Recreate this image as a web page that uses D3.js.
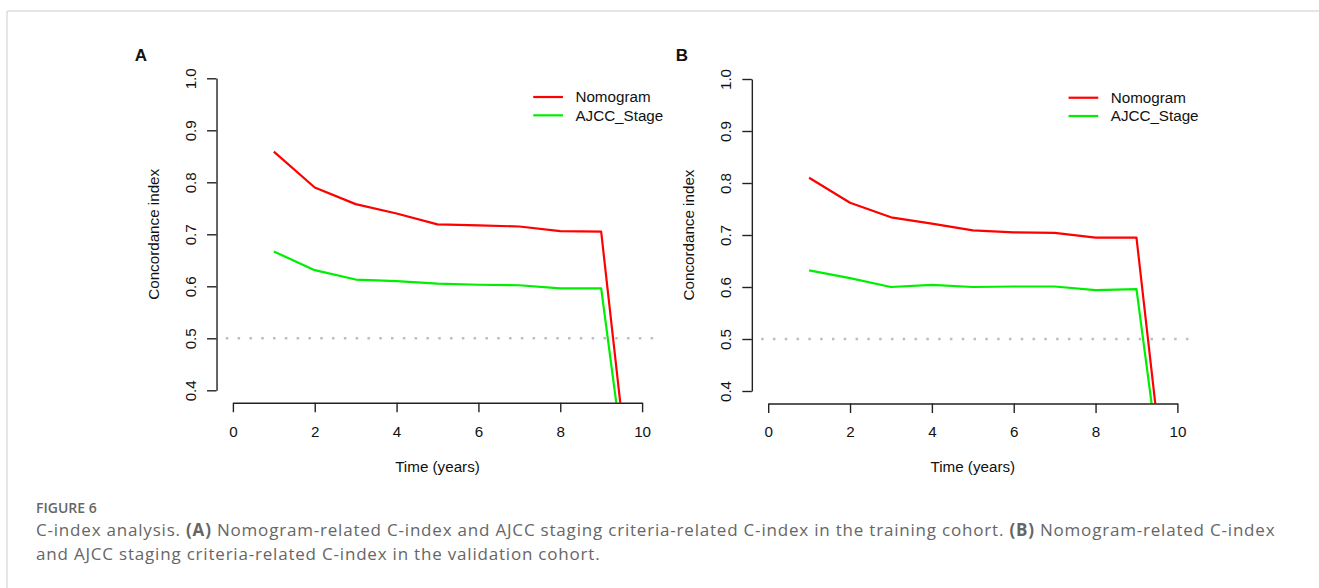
<!DOCTYPE html>
<html>
<head>
<meta charset="utf-8">
<script src="https://cdn.jsdelivr.net/npm/d3@7"></script>
<style>
  html, body { margin: 0; padding: 0; background: #fff; }
  svg { display: block; }
  .plot text { font-family: "Liberation Sans", Arial, sans-serif; fill: #111; }
  .caption { font-family: "Open Sans", sans-serif; fill: #666; }
</style>
</head>
<body>
<svg id="fig" width="1319" height="588"></svg>
<script>
// data
const years = [1, 2, 3, 4, 5, 6, 7, 8, 9, 10];
const seriesNames = ["Nomogram", "AJCC_Stage"];
const trainNomogram = [0.859, 0.790, 0.758, 0.740, 0.719, 0.717, 0.715, 0.706, 0.705, 0.0];
const trainAjcc = [0.667, 0.631, 0.613, 0.610, 0.605, 0.603, 0.602, 0.596, 0.596, 0.0];
const validNomogram = [0.810, 0.762, 0.734, 0.722, 0.709, 0.705, 0.704, 0.695, 0.695, 0.0];
const validAjcc = [0.632, 0.617, 0.600, 0.604, 0.600, 0.601, 0.601, 0.594, 0.596, 0.0];
const xTicks = [0, 2, 4, 6, 8, 10];
const yTicks = [0.4, 0.5, 0.6, 0.7, 0.8, 0.9, 1.0];
const refLine = 0.5;
const colors = ["#ff0000", "#00ee00"];

const svg = d3.select('#fig');
const fs = '15.2px';

// frame of the figure box
svg.append('line').attr('x1', 7).attr('y1', 11).attr('x2', 1319).attr('y2', 11)
    .attr('stroke', '#dcdcdc').attr('stroke-width', 1.5);
svg.append('line').attr('x1', 7).attr('y1', 11).attr('x2', 7).attr('y2', 588)
    .attr('stroke', '#dcdcdc').attr('stroke-width', 1.5);

function drawPanel(opts) {
    const g = svg.append('g').attr('class', 'plot');
    const x = d3.scaleLinear().domain([0, 10]).range([opts.left, opts.left + 409.2]);
    const y = d3.scaleLinear().domain([0.4, 1.0]).range([opts.top + 312, opts.top]);

    // R style plot region: 4% padding on each side
    const rx0 = x(-0.4), rx1 = x(10.4), ry0 = y(1.024), ry1 = y(0.376);

    const clipId = 'clip-' + opts.label;
    svg.append('clipPath').attr('id', clipId)
        .append('rect').attr('x', rx0).attr('y', ry0).attr('width', rx1 - rx0).attr('height', ry1 - ry0);

    // dotted reference line
    g.append('line')
        .attr('x1', rx0).attr('x2', rx1)
        .attr('y1', y(refLine)).attr('y2', y(refLine))
        .attr('stroke', '#bdbdbd').attr('stroke-width', 2.5)
        .attr('stroke-dasharray', '2.5,9.3').attr('stroke-dashoffset', 2.5);

    const line = d3.line().x((d, i) => x(years[i])).y(d => y(d));
    opts.series.forEach((s, k) => {
        g.append('path')
            .datum(s)
            .attr('clip-path', `url(#${clipId})`)
            .attr('d', line)
            .attr('fill', 'none')
            .attr('stroke', colors[k])
            .attr('stroke-width', 2.2)
            .attr('stroke-linejoin', 'round');
    });

    // x axis
    const xa = g.append('g')
        .attr('transform', `translate(0,${ry1})`)
        .call(d3.axisBottom(x).tickValues(xTicks).tickSize(9.5).tickSizeOuter(0));
    xa.selectAll('text').attr('y', 34).attr('dy', 0).style('font-size', fs);

    // y axis
    const ya = g.append('g')
        .attr('transform', `translate(${rx0},0)`)
        .call(d3.axisLeft(y).tickValues(yTicks).tickFormat(d3.format('.1f')).tickSize(9.5).tickSizeOuter(0));
    ya.selectAll('text')
        .attr('x', null).attr('dy', null)
        .attr('text-anchor', 'middle')
        .attr('transform', 'translate(-20.5,0) rotate(-90)')
        .style('font-size', fs);

    [xa, ya].forEach(a => {
        a.select('.domain').attr('stroke', '#222').attr('stroke-width', 1.4);
        a.selectAll('.tick line').attr('stroke', '#222').attr('stroke-width', 1.4);
        a.attr('font-family', null);
    });

    // axis titles
    g.append('text')
        .attr('x', (x(0) + x(10)) / 2).attr('y', 472)
        .attr('text-anchor', 'middle').style('font-size', fs)
        .text('Time (years)');
    g.append('text')
        .attr('transform', `translate(${rx0 - 58},${(y(0.4) + y(1.0)) / 2}) rotate(-90)`)
        .attr('text-anchor', 'middle').style('font-size', fs)
        .text('Concordance index');

    // legend, top right
    seriesNames.forEach((name, k) => {
        const ly = y(0.964) + k * 18.3;
        g.append('line')
            .attr('x1', x(7.34)).attr('x2', x(7.34) + 29.7)
            .attr('y1', ly).attr('y2', ly)
            .attr('stroke', colors[k]).attr('stroke-width', 2.2);
        g.append('text')
            .attr('x', x(7.34) + 42.2).attr('y', ly + 5.3)
            .style('font-size', fs)
            .text(name);
    });

    // panel letter
    g.append('text')
        .attr('x', opts.labelX).attr('y', 61)
        .attr('text-anchor', 'middle')
        .style('font-size', '17px').style('font-weight', 'bold')
        .text(opts.label);
}

drawPanel({ label: 'A', left: 232.9, top: 78.3, labelX: 141, series: [trainNomogram, trainAjcc] });
drawPanel({ label: 'B', left: 768.2, top: 79, labelX: 682, series: [validNomogram, validAjcc] });

// caption
const cap = svg.append('g').attr('class', 'caption');
cap.append('text').attr('x', 36).attr('y', 513.3)
    .style('font-size', '14px').style('font-weight', 600)
    .text('FIGURE 6');

const captionLines = [
    [['C-index analysis. ', false], ['(A)', true], [' Nomogram-related C-index and AJCC staging criteria-related C-index in the training cohort. ', false], ['(B)', true], [' Nomogram-related C-index', false]],
    [['and AJCC staging criteria-related C-index in the validation cohort.', false]]
];
captionLines.forEach((parts, i) => {
    const t = cap.append('text').attr('x', 36).attr('y', 535.7 + i * 24.3)
        .style('font-size', '17px').style('letter-spacing', '0.8px');
    parts.forEach(([s, bold]) => {
        t.append('tspan').style('font-weight', bold ? 700 : 400).text(s);
    });
});
</script>
</body>
</html>
